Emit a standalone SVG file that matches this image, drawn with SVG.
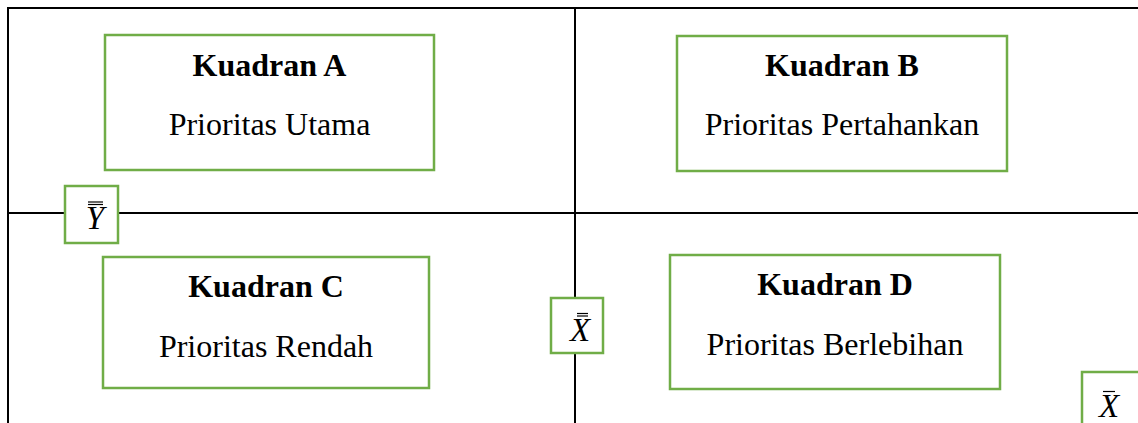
<svg xmlns="http://www.w3.org/2000/svg" width="1138" height="423" viewBox="0 0 1138 423">
  <style>
    .axis { stroke: #000; stroke-width: 2; fill: none; }
    .box { fill: #fff; stroke: #70ad47; stroke-width: 2.5; }
    .title { font-family: "Liberation Serif", "Times New Roman", serif; font-weight: bold; font-size: 32px; text-anchor: middle; fill: #000; }
    .sub { font-family: "Liberation Serif", "Times New Roman", serif; font-size: 32px; text-anchor: middle; fill: #000; }
    .sym { font-family: "Liberation Serif", "Times New Roman", serif; font-style: italic; font-size: 33px; text-anchor: middle; fill: #000; }
    .bar { stroke: #000; stroke-width: 1.2; }
  </style>

  <!-- quadrant axes -->
  <g id="connectors">
    <line class="axis" x1="7" y1="8" x2="1138" y2="8"/>
    <line class="axis" x1="8" y1="7" x2="8" y2="423"/>
    <line class="axis" x1="575" y1="8" x2="575" y2="423"/>
    <line class="axis" x1="8" y1="213" x2="1138" y2="213"/>
  </g>

  <g id="kuadran-a">
    <rect class="box" x="105" y="35" width="329" height="135"/>
    <text class="title" x="269.5" y="76">Kuadran A</text>
    <text class="sub" x="269.5" y="135">Prioritas Utama</text>
  </g>

  <g id="kuadran-b">
    <rect class="box" x="677" y="36" width="330" height="135"/>
    <text class="title" x="842" y="76">Kuadran B</text>
    <text class="sub" x="842" y="135">Prioritas Pertahankan</text>
  </g>

  <g id="kuadran-c">
    <rect class="box" x="103" y="257" width="326" height="131"/>
    <text class="title" x="266" y="297">Kuadran C</text>
    <text class="sub" x="266" y="357">Prioritas Rendah</text>
  </g>

  <g id="kuadran-d">
    <rect class="box" x="670" y="255" width="330" height="134"/>
    <text class="title" x="835" y="295">Kuadran D</text>
    <text class="sub" x="835" y="355">Prioritas Berlebihan</text>
  </g>

  <!-- mean of importance (Y double bar) -->
  <g id="y-mean">
    <rect class="box" x="65" y="186" width="53" height="57"/>
    <text class="sym" x="95" y="229">Y</text>
    <line class="bar" x1="88" y1="202" x2="103" y2="202"/>
    <line class="bar" x1="88" y1="204.5" x2="103" y2="204.5"/>
  </g>

  <!-- mean of performance (X double bar) -->
  <g id="x-mean">
    <rect class="box" x="551" y="298" width="52" height="55"/>
    <text class="sym" x="580" y="341">X</text>
    <line class="bar" x1="577" y1="313.5" x2="588" y2="313.5"/>
    <line class="bar" x1="577" y1="316" x2="588" y2="316"/>
  </g>

  <!-- X bar label -->
  <g id="x-bar">
    <rect class="box" x="1082" y="372" width="60" height="60"/>
    <text class="sym" x="1109" y="417">X</text>
    <line class="bar" x1="1103" y1="391.5" x2="1115" y2="391.5"/>
  </g>
</svg>
